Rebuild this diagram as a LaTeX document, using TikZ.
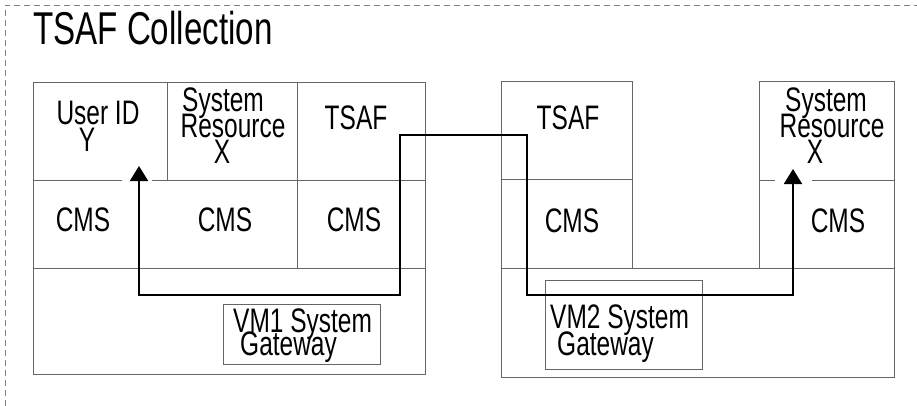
\documentclass[tikz,border=0pt]{standalone}
\usepackage{fontspec}
\setmainfont{Liberation Sans}[FakeStretch=0.72]
\usetikzlibrary{arrows.meta}
\begin{document}
\begin{tikzpicture}[x=1pt,y=-1pt,
  box/.style={draw=black!60, line width=1pt},
  lbl/.style={inner sep=0pt, anchor=base, font=\fontsize{34}{26}\selectfont},
  lblw/.style={lbl, anchor=base west},
  link/.style={draw=black, line width=2pt, {Triangle[width=18pt,length=15pt]}-{Triangle[width=18pt,length=15pt]}},
  framed/.style={draw=black!50, dash pattern=on 6pt off 4pt, line width=0.8pt}]
\useasboundingbox (0,0) rectangle (917,406);
% dashed collection frame
\draw[framed] (5,406) -- (5,5) -- (917,5);
\node[lblw, font=\fontsize{46}{46}\selectfont] (title) at (33,45) {TSAF Collection};

% VM1 system
\draw[box] (33,83) rectangle (425,374);
\draw[box] (33,180) -- (122,180) (152,180) -- (425,180);
\draw[box] (33,268) -- (425,268);
\draw[box] (167,83) -- (167,180);
\draw[box] (297,83) -- (297,268);
\draw[box] (223,304) rectangle (380,364);

\node[lbl] (uid) at (98,125) {User ID};
\node[lbl] (uidy) at (87,152) {Y};
\node[lbl] (sr1a) at (223,112) {System};
\node[lbl] (sr1b) at (233,138) {Resource};
\node[lbl] (sr1c) at (222,164) {X};
\node[lbl] (tsaf1) at (356,130) {TSAF};
\node[lbl] (cms1) at (83,231) {CMS};
\node[lbl] (cms2) at (225,231) {CMS};
\node[lbl] (cms3) at (354,231) {CMS};
\node[lblw] (gw1a) at (233,332) {VM1 System};
\node[lblw] (gw1b) at (240,355) {Gateway};

% VM2 system
\draw[box] (501,82) rectangle (632,268);
\draw[box] (501,179) -- (632,179);
\draw[box] (759,82) rectangle (894,268);
\draw[box] (759,180) -- (775,180) (812,180) -- (894,180);
\draw[box] (501,268) rectangle (894,377);
\draw[box] (545,280) rectangle (702,369);

\node[lbl] (tsaf2) at (568,130) {TSAF};
\node[lbl] (cms4) at (572,232) {CMS};
\node[lbl] (sr2a) at (826,112) {System};
\node[lbl] (sr2b) at (832,138) {Resource};
\node[lbl] (sr2c) at (815,164) {X};
\node[lbl] (cms5) at (838,232) {CMS};
\node[lblw] (gw2a) at (550,328) {VM2 System};
\node[lblw] (gw2b) at (557,355) {Gateway};

% connector
\coordinate (tipL) at (139,166);
\coordinate (b1) at (139,295);
\coordinate (a1) at (400,295);
\coordinate (a2) at (400,135);
\coordinate (a3) at (527,135);
\coordinate (a4) at (527,295);
\coordinate (b6) at (793,295);
\coordinate (tipR) at (793,169);
\draw[link] (tipL) -- (b1) -- (a1) -- (a2) -- (a3) -- (a4) -- (b6) -- (tipR);
\end{tikzpicture}
\end{document}
